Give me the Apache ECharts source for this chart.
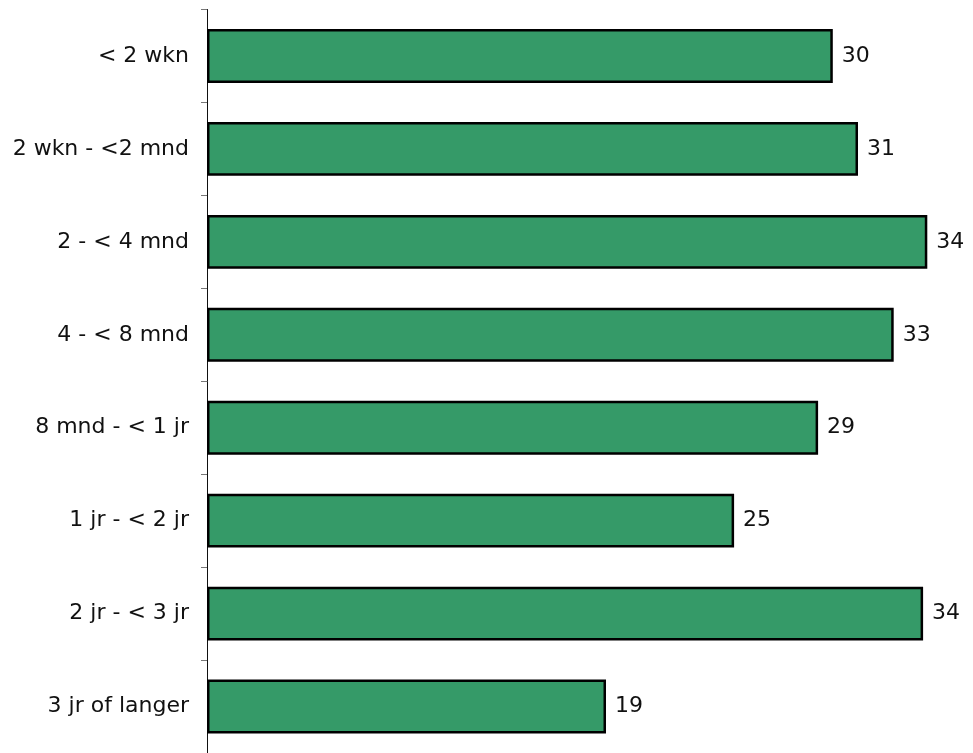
<!DOCTYPE html>
<html>
<head>
<meta charset="utf-8">
<script src="https://cdn.jsdelivr.net/npm/echarts@6/dist/echarts.min.js"></script>
<style>
  html, body { margin: 0; padding: 0; background: #fff; }
  #chart { width: 973px; height: 753px; }
</style>
</head>
<body>
<div id="chart"></div>
<script>
// categories, top to bottom
var categories = ['< 2 wkn', '2 wkn - <2 mnd', '2 - < 4 mnd', '4 - < 8 mnd',
  '8 mnd - < 1 jr', '1 jr - < 2 jr', '2 jr - < 3 jr', '3 jr of langer']
// (labels show rounded values)
var values = [29.8, 31.0, 34.3, 32.7, 29.1, 25.1, 34.1, 19.0]

var chart = echarts.init(document.getElementById('chart'))
chart.setOption({
  animation: false,
  textStyle: { fontFamily: 'DejaVu Sans' },
  grid: { left: 207, right: 10, top: 9.5, bottom: 0, containLabel: false },
  xAxis: {
    type: 'value',
    min: 0,
    max: 36,
    show: false
  },
  yAxis: {
    type: 'category',
    data: categories,
    inverse: true,
    axisLine: { show: true, lineStyle: { color: '#111', width: 1 } },
    axisTick: { show: true, length: 6, alignWithLabel: false, lineStyle: { color: '#777' } },
    axisLabel: { color: '#111', fontSize: 22, margin: 18 }
  },
  series: [{
    type: 'bar',
    data: values,
    barCategoryGap: '42%',
    itemStyle: { color: '#359a68', borderColor: '#000', borderWidth: 2.5 },
    label: {
      show: true,
      position: 'right',
      distance: 9,
      color: '#111',
      fontSize: 22,
      formatter: function (p) { return Math.round(p.value) }
    }
  }]
})
</script>
</body>
</html>
